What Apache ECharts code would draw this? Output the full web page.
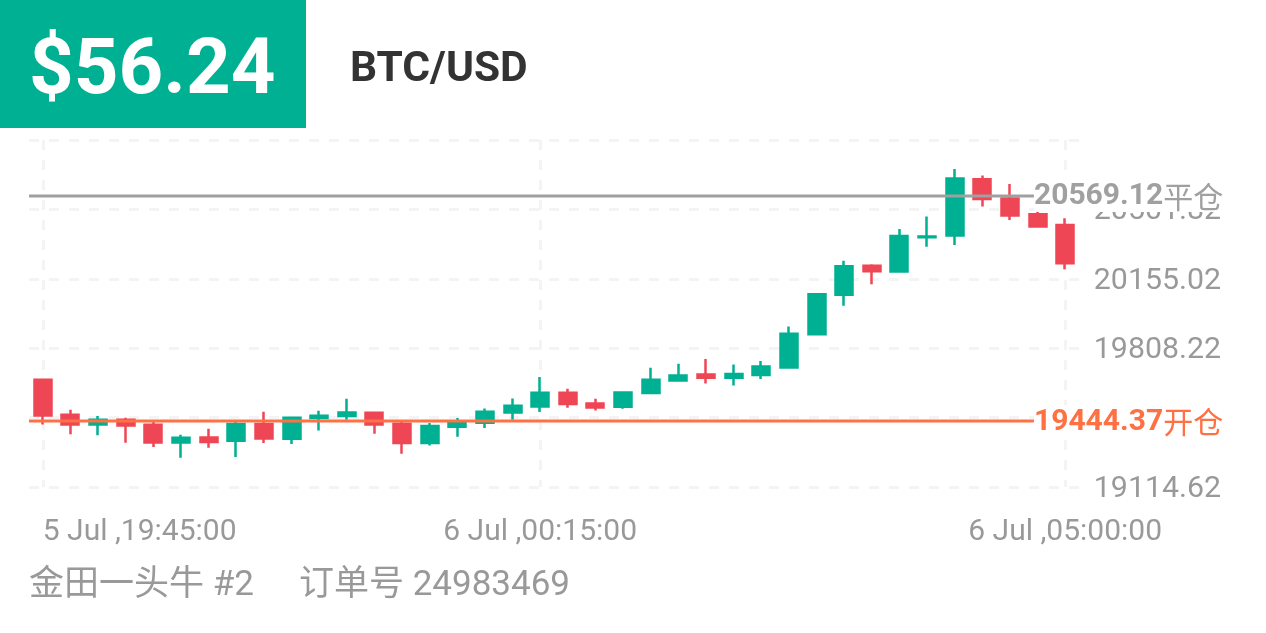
<!DOCTYPE html>
<html>
<head>
<meta charset="utf-8">
<script src="https://cdn.jsdelivr.net/npm/echarts@6/dist/echarts.min.js"></script>
<style>
html,body{margin:0;padding:0;background:#fff;}
#main{width:1266px;height:633px;}
</style>
</head>
<body>
<div id="main"></div>
<script>
var times = ['5 Jul ,19:45:00','5 Jul ,20:00:00','5 Jul ,20:15:00','5 Jul ,20:30:00','5 Jul ,20:45:00','5 Jul ,21:00:00','5 Jul ,21:15:00','5 Jul ,21:30:00','5 Jul ,21:45:00','5 Jul ,22:00:00','5 Jul ,22:15:00','5 Jul ,22:30:00','5 Jul ,22:45:00','5 Jul ,23:00:00','5 Jul ,23:15:00','5 Jul ,23:30:00','5 Jul ,23:45:00','6 Jul ,00:00:00','6 Jul ,00:15:00','6 Jul ,00:30:00','6 Jul ,00:45:00','6 Jul ,01:00:00','6 Jul ,01:15:00','6 Jul ,01:30:00','6 Jul ,01:45:00','6 Jul ,02:00:00','6 Jul ,02:15:00','6 Jul ,02:30:00','6 Jul ,02:45:00','6 Jul ,03:00:00','6 Jul ,03:15:00','6 Jul ,03:30:00','6 Jul ,03:45:00','6 Jul ,04:00:00','6 Jul ,04:15:00','6 Jul ,04:30:00','6 Jul ,04:45:00','6 Jul ,05:00:00'];
var opens = [19650.5,19475.7,19427.5,19450.8,19425.8,19337.6,19362.6,19345.9,19429.1,19355.9,19459.1,19469.1,19485.7,19430.8,19334.3,19415.8,19435.8,19487.4,19517.4,19585.6,19532.3,19515.7,19583.9,19647.2,19677.1,19660.5,19673.8,19712.1,19878.5,20074.9,20219.7,20191.4,20362.8,20371.2,20652.4,20555.9,20477.6,20424.4];
var closes = [19472.4,19427.5,19450.8,19422.5,19337.6,19360.9,19339.3,19429.1,19357.6,19460.8,19470.8,19487.4,19427.5,19334.3,19419.2,19437.5,19490.7,19520.7,19585.6,19529.0,19512.4,19587.3,19650.5,19672.1,19660.5,19678.8,19717.1,19880.2,20078.2,20218.0,20193.1,20369.5,20366.1,20655.7,20554.2,20471.0,20416.1,20233.0];
var lows = [19427.5,19377.6,19372.6,19336.0,19314.3,19261.1,19311.0,19264.4,19334.3,19329.3,19397.5,19450.8,19380.9,19281.0,19322.6,19365.9,19409.2,19450.8,19489.1,19510.7,19497.4,19505.7,19578.9,19647.2,19632.2,19622.2,19653.8,19712.1,19878.5,20020.0,20128.2,20191.4,20314.6,20324.5,20515.9,20449.4,20416.1,20203.0];
var highs = [19650.5,19500.7,19469.1,19460.8,19440.8,19375.9,19405.9,19440.8,19490.7,19460.8,19495.7,19555.6,19485.7,19440.8,19434.1,19459.1,19507.4,19557.3,19663.8,19605.6,19555.6,19587.3,19710.4,19730.4,19753.7,19727.1,19743.7,19916.8,20078.2,20244.7,20228.0,20404.4,20466.0,20704.0,20670.7,20629.1,20489.3,20457.7];
var labelIdx = [0, 18, 37];
var yBase = 19114.62, yStep = 346.8, ySteps = 5;
var yLabels = ['19114.62', '19808.22', '20155.02', '20501.82']; // 20848.62 和 19461.42 在原图里没有显示
var closePrice = 20569.12, openPrice = 19444.37;

var GREEN = '#00B092', RED = '#EF4655', ORANGE = '#FF7043', GRAY = '#A0A0A0';
var CJK = '"Noto Sans CJK SC"';

// 价格都减去 yBase，这样 y 轴 min 是 interval 的整数倍
var candles = times.map(function (t, i) {
	return [opens[i] - yBase, closes[i] - yBase, lows[i] - yBase, highs[i] - yBase];
});

var priceLine = function (price, color, word) {
	return {
		type: 'line',
		xAxisIndex: 1,
		data: [[0, price - yBase], [36.37, price - yBase]],
		symbol: 'none',
		silent: true,
		z: 5,
		lineStyle: {color: color, width: 3},
		endLabel: {
			show: true,
			distance: 0,
			formatter: function () { return '{n|' + price.toFixed(2) + '}{c|' + word + '}'; },
			backgroundColor: '#fff',
			padding: [2, 0, 0, 0],
			rich: {
				n: {color: color, fontFamily: 'Roboto', fontWeight: 'bold', fontSize: 30},
				c: {color: color, fontFamily: CJK, fontSize: 30}
			}
		}
	};
};

var option = {
	animation: false,
	backgroundColor: '#fff',
	grid: {left: 29, right: 187, top: 140, bottom: 146},
	xAxis: [
		{
			type: 'category',
			data: times,
			boundaryGap: true,
			axisLine: {show: false},
			axisTick: {show: false},
			splitLine: {
				show: true,
				alignWithLabel: true,
				interval: function (i) { return labelIdx.indexOf(i) >= 0; },
				lineStyle: {color: '#F4F4F4', width: 3, type: [10, 10]}
			},
			axisLabel: {
				interval: function (i) { return labelIdx.indexOf(i) >= 0; },
				margin: 30,
				color: '#999',
				fontFamily: 'Roboto',
				fontSize: 30,
				alignMinLabel: 'left'
			}
		},
		{type: 'value', min: 0, max: 38, show: false}
	],
	yAxis: {
		type: 'value',
		position: 'right',
		min: 0,
		max: yStep * ySteps,
		interval: yStep,
		axisLine: {show: false},
		axisTick: {show: false},
		splitLine: {lineStyle: {color: '#F4F4F4', width: 3, type: [10, 10]}},
		axisLabel: {
			align: 'right',
			margin: 142,
			color: '#999',
			fontFamily: 'Roboto',
			fontSize: 30,
			formatter: function (v) {
				var s = (v + yBase).toFixed(2);
				return yLabels.indexOf(s) >= 0 ? '{a|' + s + '}' : '';
			},
			rich: {a: {color: '#999', fontFamily: 'Roboto', fontSize: 30.3, padding: [5, 0, 0, 0]}}
		}
	},
	series: [
		{
			type: 'candlestick',
			data: candles,
			barWidth: 17.5,
			itemStyle: {color: GREEN, color0: RED, borderColor: GREEN, borderColor0: RED, borderWidth: 2.5}
		},
		priceLine(closePrice, GRAY, '平仓'),
		priceLine(openPrice, ORANGE, '开仓')
	],
	graphic: [
		{type: 'rect', left: 0, top: 0, shape: {width: 306, height: 128}, style: {fill: GREEN}},
		{type: 'text', left: 29, top: 34, style: {text: '$56.24', fill: '#fff', font: 'bold 78px Roboto'}},
		{type: 'text', left: 350, top: 49, style: {text: 'BTC/USD', fill: '#333', font: 'bold 42.5px Roboto'}},
		{type: 'text', left: 29, top: 569, style: {text: '金田一头牛 #2', fill: '#999', font: '35px Roboto, ' + CJK}},
		{type: 'text', left: 299, top: 569, style: {text: '订单号 24983469', fill: '#999', font: '35px Roboto, ' + CJK}}
	]
};

var chart = echarts.init(document.getElementById('main'));
chart.setOption(option);
</script>
</body>
</html>
